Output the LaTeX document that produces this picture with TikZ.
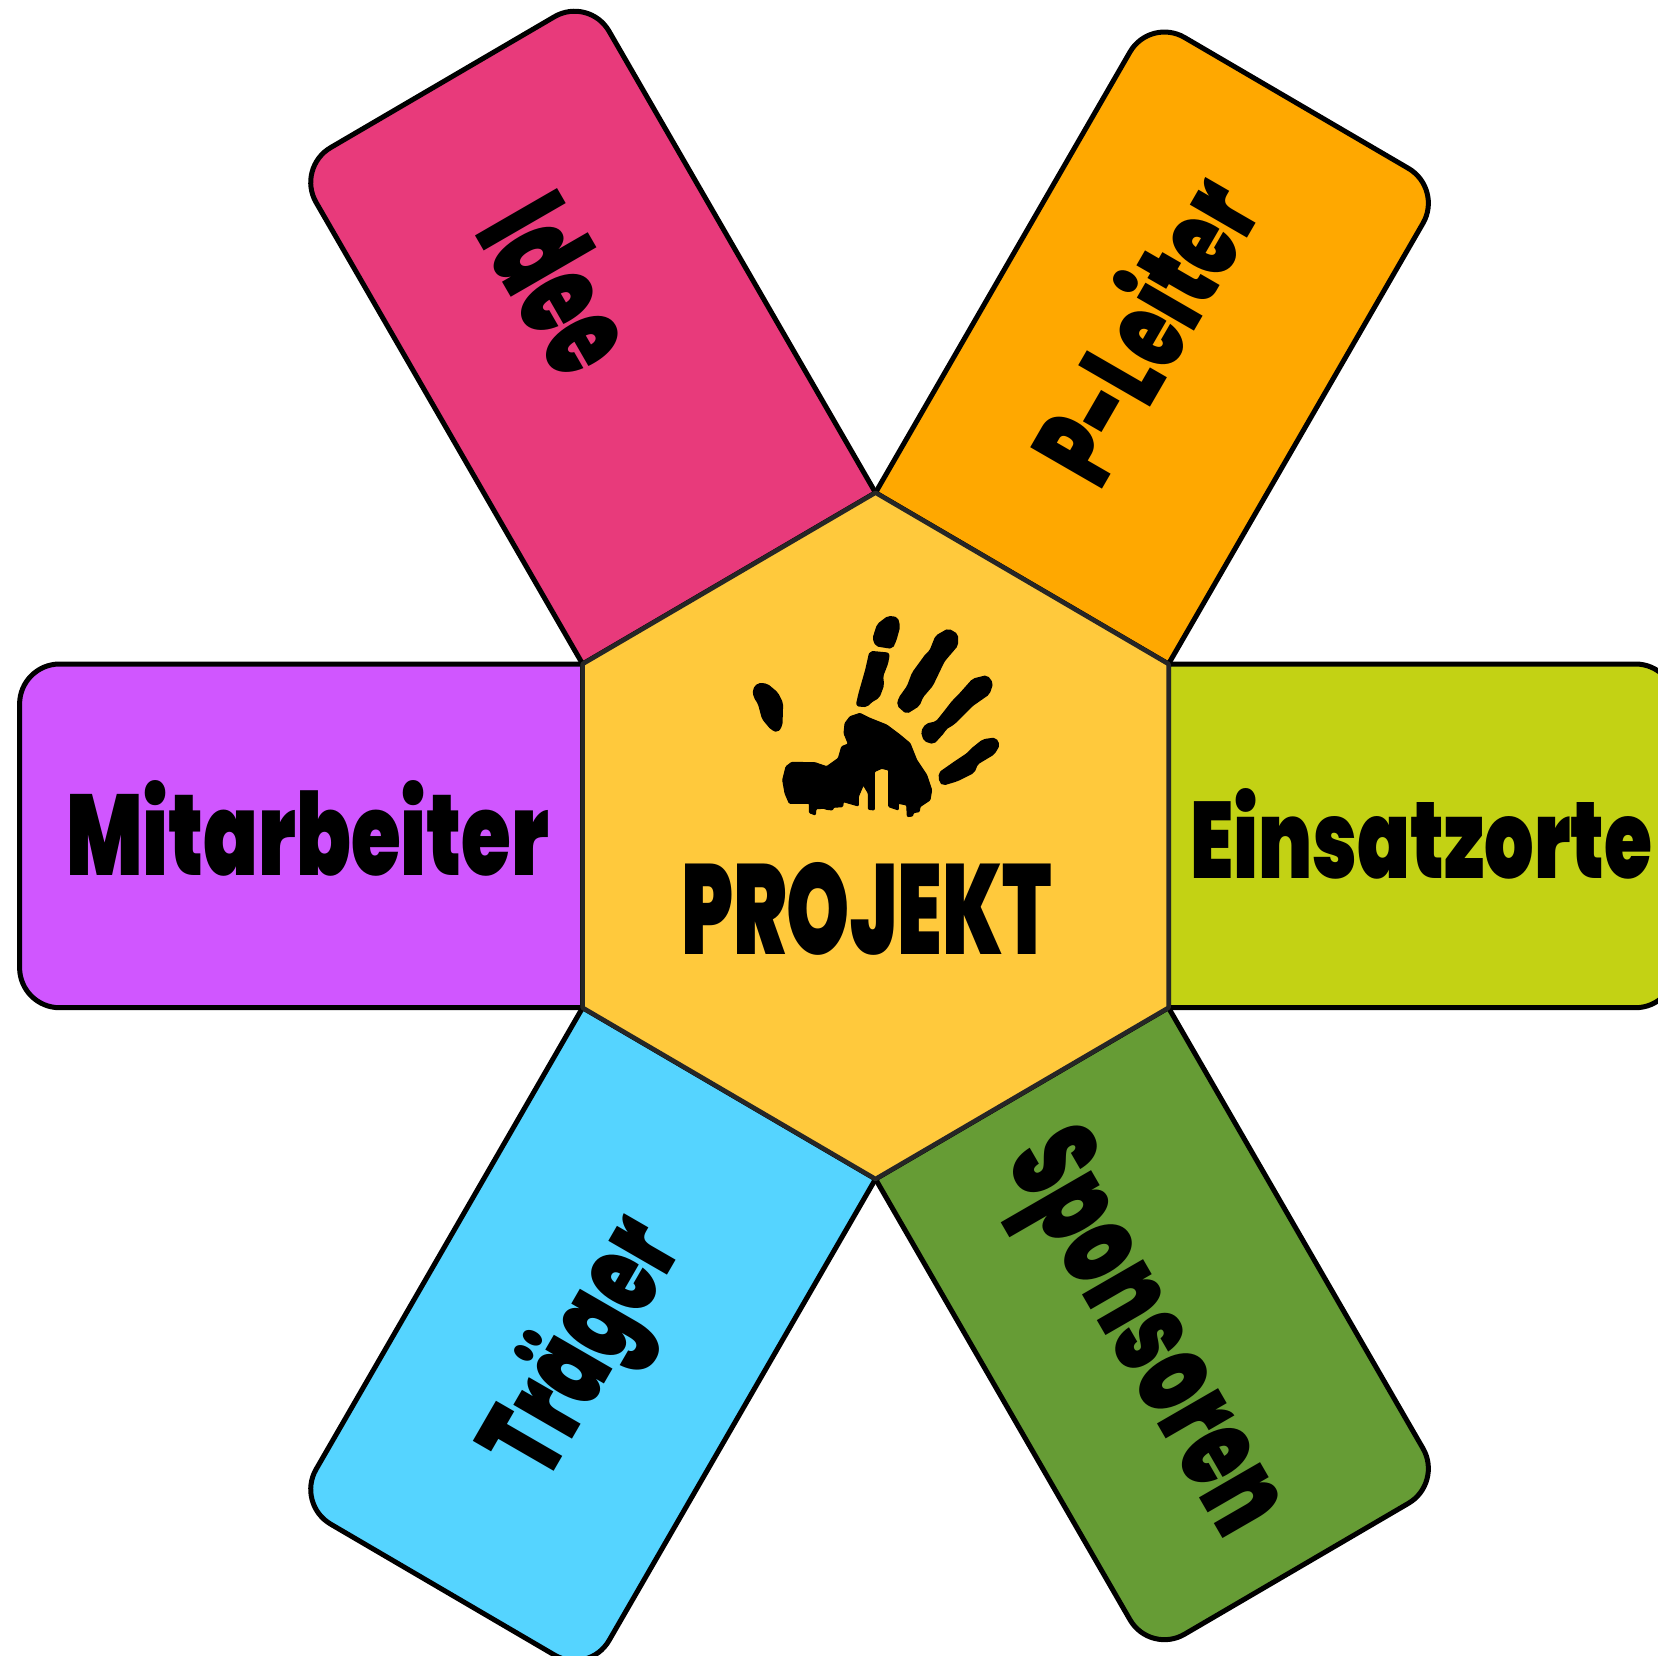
\documentclass[tikz,border=0pt]{standalone}
\usepackage{fontspec}
\usepackage{graphicx}
\usetikzlibrary{calc}
\newfontfamily\fut{Poppins Black}
\definecolor{hexc}{HTML}{FFC93C}
\definecolor{pinkc}{HTML}{E83A7B}
\definecolor{orangec}{HTML}{FFA800}
\definecolor{purplec}{HTML}{D056FF}
\definecolor{limec}{HTML}{C3D214}
\definecolor{greenc}{HTML}{669C35}
\definecolor{bluec}{HTML}{55D4FF}
\tikzset{
  x=1pt,y=-1pt,
  petal/.style={draw=black,line width=5pt,rounded corners=40pt,line join=round},
  hexa/.style={draw=black!85,line width=4.5pt,fill=hexc,line join=round},
  lab/.style={inner sep=0pt,outer sep=0pt,anchor=base west,text=black},
  handp/.style={fill=black,draw=black,line width=3pt,line join=round,rounded corners=2pt},
}
\newcommand{\lbl}[3]{\resizebox{#1pt}{#2pt}{\fut #3}}
% #1 fill, #2 first vertex, #3 second vertex, #4 outward vector
\newcommand{\petal}[4]{\draw[petal,fill=#1] (#2) -- ($(#2)+#4$) -- ($(#3)+#4$) -- ($(#3)+0.5*#4$) [sharp corners] -- (#3) -- cycle;}
\begin{document}
\begin{tikzpicture}
\useasboundingbox[clip] (0,0) rectangle (1658,1656);
\coordinate (T) at (875.5,492.7);
\coordinate (UR) at (1168.5,664);
\coordinate (LR) at (1168.5,1007.7);
\coordinate (B) at (875.5,1179);
\coordinate (LL) at (582.6,1007.7);
\coordinate (UL) at (582.6,664);
\fill[white] (0,0) rectangle (1658,1656);
\petal{pinkc}{UL}{T}{(-286.5,-496.2)}
\petal{orangec}{T}{UR}{(274.5,-475.4)}
\petal{limec}{UR}{LR}{(507,0)}
\petal{greenc}{LR}{B}{(274.5,475.4)}
\petal{bluec}{B}{LL}{(-286.5,496.2)}
\petal{purplec}{LL}{UL}{(-563,0)}
\draw[hexa] (T) -- (UR) -- (LR) -- (B) -- (LL) -- (UL) -- cycle;
% hand
\begin{scope}[xshift=700pt,yshift=-590pt,scale=0.33333]
\path[handp] (162,300)--(175,283)--(200,285)--(230,310)--(245,340)--(243,405)--(232,423)--(215,415)--(190,385)--(178,340)--(165,320)--cycle;
\path[handp] (522,145)--(535,105)--(565,82)--(590,85)--(596,110)--(585,150)--(575,172)--(530,165)--cycle;
\path[handp] (512,187)--(565,192)--(560,220)--(545,258)--(548,285)--(535,320)--(510,335)--(500,347)--(472,345)--(480,310)--(500,240)--cycle;
\path[handp] (692,185)--(710,140)--(745,120)--(770,135)--(770,165)--(730,212)--(695,285)--(665,320)--(655,345)--(620,367)--(595,345)--(600,325)--(625,290)--(640,250)--(680,195)--cycle;
\path[handp] (780,315)--(820,270)--(860,260)--(875,280)--(865,310)--(815,345)--(760,400)--(735,415)--(730,425)--(700,458)--(675,450)--(667,425)--(680,405)--(710,398)--(725,380)--(760,335)--cycle;
\path[handp] (720,550)--(770,515)--(805,492)--(815,480)--(850,452)--(885,447)--(895,465)--(880,490)--(830,520)--(820,545)--(770,570)--(730,582)--(722,575)--cycle;
\path[handp,line width=1pt,rounded corners=1pt] (248,570)--(258,530)--(275,517)--(345,518)--(380,530)--(415,505)--(425,470)--(445,462)--(432,430)--(435,400)--(450,380)--(480,370)--(510,385)--(560,405)--(600,435)--(630,460)--(650,510)--(680,555)--(695,600)--(690,630)--(660,650)--(658,665)--(640,668)--(638,678)--(622,680)--(620,645)--(595,640)--(595,660)--(566,650)--(566,540)--(545,535)--(523,545)--(523,660)--(505,658)--(505,610)--(490,585)--(475,620)--(475,648)--(430,635)--(428,650)--(400,652)--(398,660)--(378,658)--(375,655)--(348,656)--(346,675)--(328,668)--(328,640)--(268,640)--(255,610)--cycle;
\end{scope}
% labels
\node[lab] (projekt) at (681,954) {\lbl{371}{92}{PROJEKT}};
\node[lab] (mit) at (66,875.5) {\lbl{483}{95}{Mitarbeiter}};
\node[lab] (ein) at (1190,878) {\lbl{462}{90}{Einsatzorte}};
\node[lab,rotate=-60] (idee) at (473.7,232.6) {\lbl{175}{99}{Idee}};
\node[lab,rotate=60] (pl) at (1100.9,492.6) {\lbl{326}{97}{P-Leiter}};
\node[lab,rotate=60] (tr) at (546.3,1484.4) {\lbl{274}{95}{Träger}};
\node[lab,rotate=-60] (sp) at (1004.5,1160) {\lbl{440}{90}{Sponsoren}};
\end{tikzpicture}
\end{document}
